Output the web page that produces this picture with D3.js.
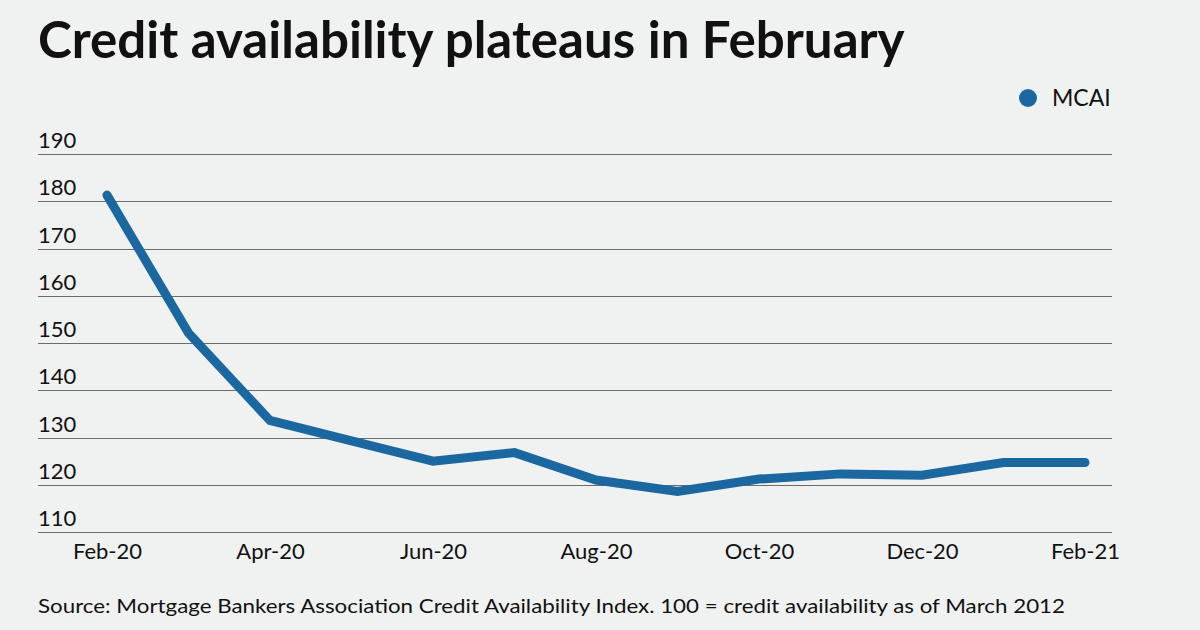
<!DOCTYPE html>
<html>
<head>
<meta charset="utf-8">
<script src="https://cdn.jsdelivr.net/npm/d3@7"></script>
<style>
  html, body { margin: 0; padding: 0; background: #f0f1f1; }
  svg { display: block; }
</style>
</head>
<body>
<div id="chart"></div>
<script>
// data
const months = ["Feb-20", "Mar-20", "Apr-20", "May-20", "Jun-20", "Jul-20", "Aug-20",
                "Sep-20", "Oct-20", "Nov-20", "Dec-20", "Jan-21", "Feb-21"];
const mcai = [181.3, 152.1, 133.6, 129.3, 125.0, 126.8, 121.0, 118.6, 121.2, 122.3, 122.0, 124.7, 124.7];
const yTicks = [110, 120, 130, 140, 150, 160, 170, 180, 190];
const xTickLabels = ["Feb-20", "Apr-20", "Jun-20", "Aug-20", "Oct-20", "Dec-20", "Feb-21"];

const W = 1200, H = 630;
const lineColor = "#1b67a0";
const font = "Lato, 'Open Sans', sans-serif";

const svg = d3.select("#chart").append("svg")
    .attr("width", W).attr("height", H);

svg.append("rect").attr("width", W).attr("height", H).attr("fill", "#f0f1f1");

// title, stretched to the width seen in the picture
const title = svg.append("text")
    .attr("x", 38).attr("y", 58)
    .style("font-family", font)
    .style("font-weight", "bold")
    .style("font-size", "46px")
    .style("fill", "#111")
    .text("Credit availability plateaus in February");
const tw = title.node().getComputedTextLength();
title.style("font-size", (46 * 867 / tw).toFixed(1) + "px");

const x = d3.scalePoint().domain(months).range([107, 1085]);
const y = d3.scaleLinear().domain([110, 190]).range([532, 154]);

// gridlines
svg.append("g")
    .selectAll("line")
    .data(yTicks)
    .join("line")
    .attr("x1", 38).attr("x2", 1112)
    .attr("y1", d => Math.round(y(d)) + 0.5)
    .attr("y2", d => Math.round(y(d)) + 0.5)
    .attr("stroke", "#6a6a6a")
    .attr("stroke-width", 1.2);

// y labels sit on top of each gridline
svg.append("g")
    .selectAll("text")
    .data(yTicks)
    .join("text")
    .attr("x", 38)
    .attr("y", d => y(d) - 6)
    .style("font-family", font)
    .style("font-size", "22px")
    .style("fill", "#111")
    .text(d => d);

// x labels
const xAxis = svg.append("g")
    .attr("transform", `translate(0, ${y(110)})`)
    .call(d3.axisBottom(x).tickValues(xTickLabels).tickSize(0).tickPadding(11));
xAxis.select(".domain").remove();
xAxis.selectAll("text")
    .style("font-family", font)
    .style("font-size", "22px")
    .style("fill", "#111");

// line
svg.append("path")
    .datum(mcai)
    .attr("fill", "none")
    .attr("stroke", lineColor)
    .attr("stroke-width", 9)
    .attr("stroke-linejoin", "miter")
    .attr("stroke-linecap", "round")
    .attr("d", d3.line().x((d, i) => x(months[i])).y(d => y(d)));

// legend
svg.append("circle")
    .attr("cx", 1028).attr("cy", 98).attr("r", 9)
    .attr("fill", lineColor);
svg.append("text")
    .attr("x", 1052).attr("y", 106)
    .style("font-family", font)
    .style("font-size", "23px")
    .style("fill", "#111")
    .text("MCAI");

// source
svg.append("text")
    .attr("x", 38).attr("y", 613)
    .attr("textLength", 1027)
    .attr("lengthAdjust", "spacingAndGlyphs")
    .style("font-family", font)
    .style("font-size", "19px")
    .style("fill", "#111")
    .text("Source: Mortgage Bankers Association Credit Availability Index. 100 = credit availability as of March 2012");
</script>
</body>
</html>
